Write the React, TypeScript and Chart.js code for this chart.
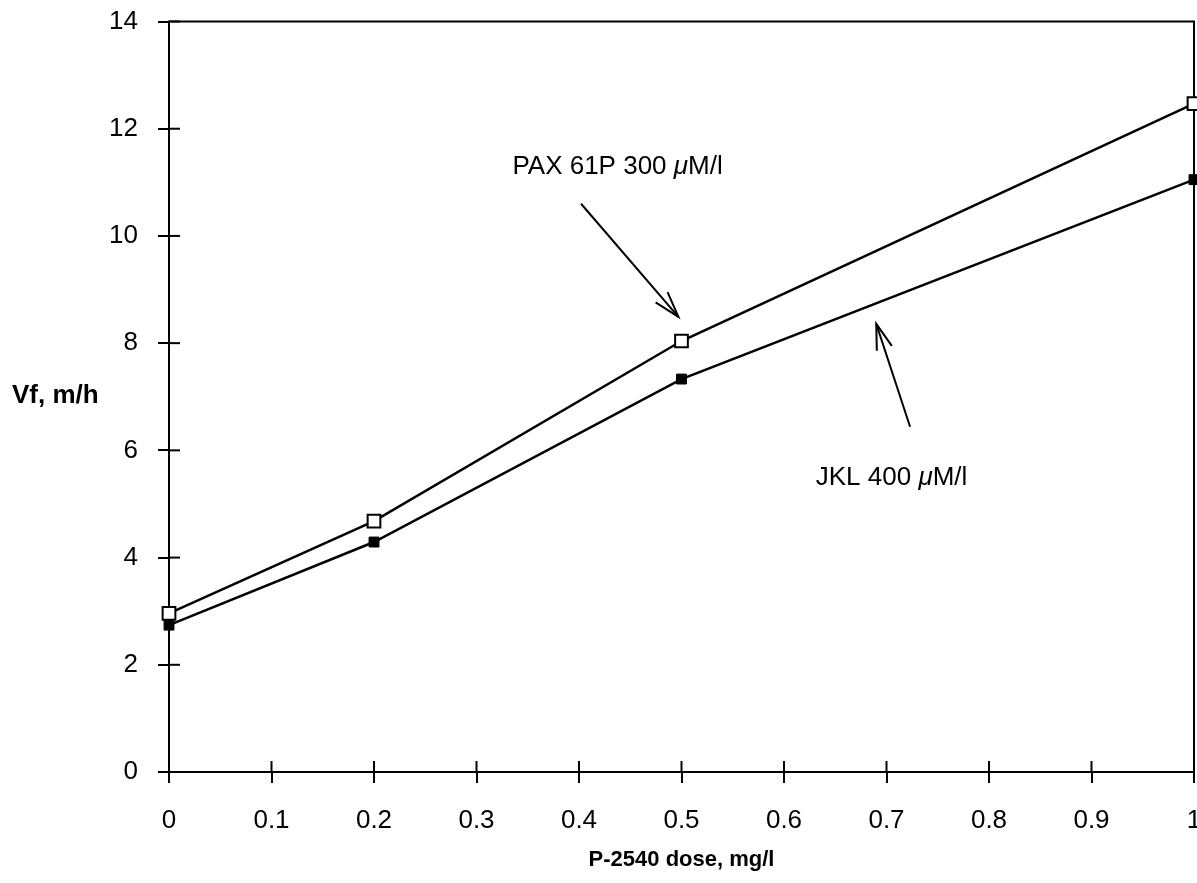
import React, { useEffect, useRef } from "react";
import { Chart, registerables } from "chart.js";

Chart.register(...registerables);

// ---- data ----
const doses = [0, 0.2, 0.5, 1];
const paxValues = [2.96, 4.68, 8.04, 12.47];
const jklValues = [2.74, 4.29, 7.33, 11.05];
const xTickValues = [0, 0.1, 0.2, 0.3, 0.4, 0.5, 0.6, 0.7, 0.8, 0.9, 1];
const yTickValues = [0, 2, 4, 6, 8, 10, 12, 14];
const paxLabel = ["PAX 61P 300 ", "μ", "M/l"];
const jklLabel = ["JKL 400 ", "μ", "M/l"];
const xTitle = "P-2540 dose, mg/l";
const yTitle = "Vf, m/h";

const FAMILY = "'Liberation Sans', Arial, Helvetica, sans-serif";
const W = 1210;
const H = 883;

function drawArrow(ctx: CanvasRenderingContext2D, x0: number, y0: number, x1: number, y1: number) {
  ctx.beginPath();
  ctx.moveTo(x0, y0);
  ctx.lineTo(x1, y1);
  ctx.stroke();
  const ang = Math.atan2(y0 - y1, x0 - x1);
  const len = 27;
  const spread = (17 * Math.PI) / 180;
  ctx.beginPath();
  ctx.moveTo(x1 + len * Math.cos(ang - spread), y1 + len * Math.sin(ang - spread));
  ctx.lineTo(x1, y1);
  ctx.lineTo(x1 + len * Math.cos(ang + spread), y1 + len * Math.sin(ang + spread));
  ctx.stroke();
}

function drawMixed(ctx: CanvasRenderingContext2D, parts: string[], x: number, y: number, size: number) {
  let cx = x;
  parts.forEach((p, i) => {
    ctx.font = (i === 1 ? "italic " : "") + size + "px " + FAMILY;
    ctx.fillText(p, cx, y);
    cx += ctx.measureText(p).width;
  });
}

const framePlugin = {
  id: "frame",
  beforeDatasetsDraw(chart: any) {
    const { ctx, chartArea: a, scales } = chart;
    const x = scales.x;
    const y = scales.y;
    ctx.save();
    ctx.strokeStyle = "#000";
    ctx.lineWidth = 2;
    ctx.strokeRect(a.left, a.top, a.right - a.left, a.bottom - a.top);
    // inner halves of crossing ticks
    xTickValues.forEach((v) => {
      const px = x.getPixelForValue(v);
      ctx.beginPath();
      ctx.moveTo(px, a.bottom);
      ctx.lineTo(px, a.bottom - 11);
      ctx.stroke();
    });
    yTickValues.forEach((v) => {
      const py = y.getPixelForValue(v);
      ctx.beginPath();
      ctx.moveTo(a.left, py);
      ctx.lineTo(a.left + 11, py);
      ctx.stroke();
    });
    ctx.restore();
  },
  afterDraw(chart: any) {
    const { ctx, scales } = chart;
    const x = scales.x;
    const y = scales.y;
    ctx.save();
    ctx.fillStyle = "#000";
    ctx.strokeStyle = "#000";
    ctx.lineWidth = 2;
    ctx.textBaseline = "alphabetic";
    ctx.textAlign = "left";
    // annotations
    drawMixed(ctx, paxLabel, x.getPixelForValue(0.335), y.getPixelForValue(11.15), 26);
    drawArrow(ctx, x.getPixelForValue(0.402), y.getPixelForValue(10.6), x.getPixelForValue(0.497), y.getPixelForValue(8.49));
    drawMixed(ctx, jklLabel, x.getPixelForValue(0.631), y.getPixelForValue(5.35), 26);
    drawArrow(ctx, x.getPixelForValue(0.723), y.getPixelForValue(6.44), x.getPixelForValue(0.69), y.getPixelForValue(8.36));
    // y title, horizontal
    ctx.font = "bold 26px " + FAMILY;
    ctx.fillText(yTitle, 12, y.getPixelForValue(6.88));
    ctx.restore();
  },
};

export default function App() {
  const ref = useRef<HTMLCanvasElement>(null);
  useEffect(() => {
    if (!ref.current) return;
    const chart = new Chart(ref.current, {
      type: "line",
      data: {
        datasets: [
          {
            label: "PAX 61P 300 μM/l",
            data: doses.map((d, i) => ({ x: d, y: paxValues[i] })),
            borderColor: "#000",
            borderWidth: 2.5,
            pointStyle: "rect",
            pointRadius: 9,
            pointBorderWidth: 2,
            pointBackgroundColor: "#fff",
            pointBorderColor: "#000",
            clip: false as any,
            tension: 0,
          },
          {
            label: "JKL 400 μM/l",
            data: doses.map((d, i) => ({ x: d, y: jklValues[i] })),
            borderColor: "#000",
            borderWidth: 2.5,
            pointStyle: "rect",
            pointRadius: 7,
            pointBorderWidth: 1,
            pointBackgroundColor: "#000",
            pointBorderColor: "#000",
            clip: false as any,
            tension: 0,
          },
        ],
      },
      options: {
        animation: false,
        responsive: false,
        layout: { padding: 0 },
        plugins: { legend: { display: false }, tooltip: { enabled: false } },
        scales: {
          x: {
            type: "linear",
            min: 0,
            max: 1,
            afterFit: (s: any) => {
              s.height = 111;
              s.paddingLeft = 0;
              s.paddingRight = W - 1194;
            },
            ticks: {
              stepSize: 0.1,
              autoSkip: false,
              maxRotation: 0,
              color: "#000",
              padding: 22,
              font: { family: FAMILY, size: 26 },
              callback: (v: any) => String(Math.round(Number(v) * 10) / 10),
            },
            grid: { drawOnChartArea: false, drawTicks: true, tickLength: 11, color: "#000", lineWidth: 2 },
            border: { display: true, color: "#000", width: 2 },
            title: {
              display: true,
              text: xTitle,
              color: "#000",
              font: { family: FAMILY, size: 22, weight: "bold" },
              padding: { top: 0, bottom: 10 },
            },
          },
          y: {
            type: "linear",
            min: 0,
            max: 14,
            afterFit: (s: any) => {
              s.width = 169;
              s.paddingTop = 21.5;
              s.paddingBottom = 0;
            },
            ticks: {
              stepSize: 2,
              color: "#000",
              padding: 20,
              font: { family: FAMILY, size: 26 },
            },
            grid: { drawOnChartArea: false, drawTicks: true, tickLength: 11, color: "#000", lineWidth: 2 },
            border: { display: true, color: "#000", width: 2 },
          },
        },
      },
      plugins: [framePlugin],
    });
    return () => chart.destroy();
  }, []);
  return (
    <div style={{ position: "absolute", left: 0, top: 0, width: 1197, height: 883, overflow: "hidden", background: "#fff" }}>
      <canvas ref={ref} width={W} height={H} style={{ display: "block" }} />
    </div>
  );
}
